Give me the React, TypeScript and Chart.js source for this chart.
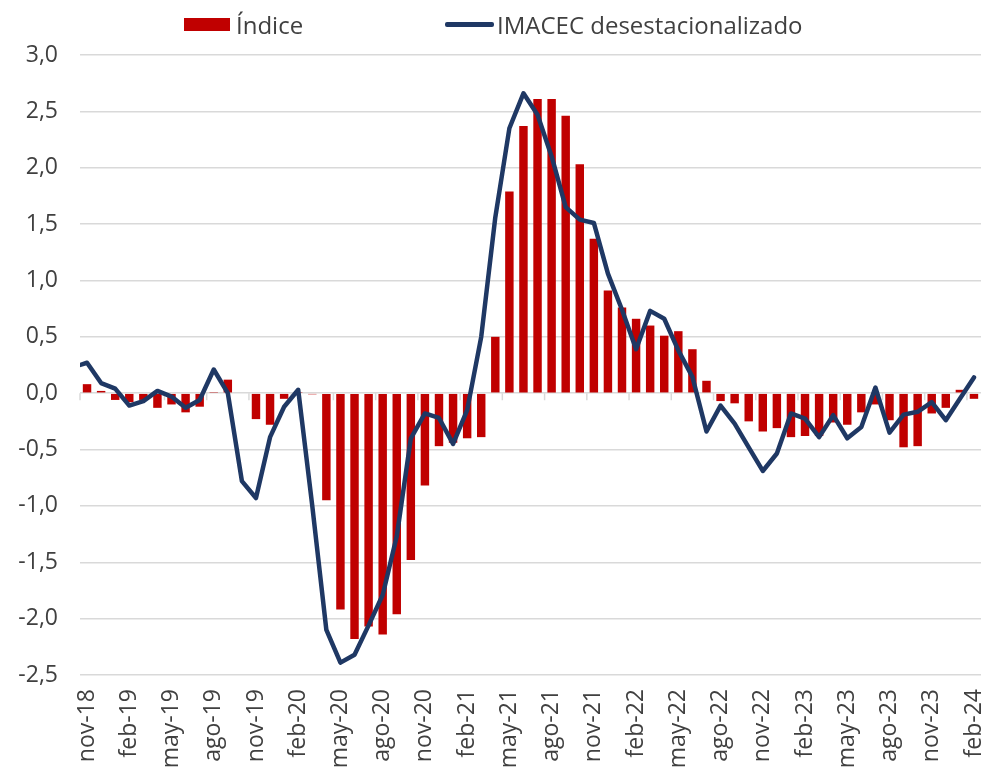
import React, { useEffect, useRef } from 'react';
import { Chart, registerables } from 'chart.js';

Chart.register(...registerables);

// Categories (first one, oct-18, sits just outside the visible range so the line enters from the edge)
const categories = [
  'oct-18', 'nov-18', 'dic-18',
  'ene-19', 'feb-19', 'mar-19', 'abr-19', 'may-19', 'jun-19', 'jul-19', 'ago-19', 'sep-19', 'oct-19', 'nov-19', 'dic-19',
  'ene-20', 'feb-20', 'mar-20', 'abr-20', 'may-20', 'jun-20', 'jul-20', 'ago-20', 'sep-20', 'oct-20', 'nov-20', 'dic-20',
  'ene-21', 'feb-21', 'mar-21', 'abr-21', 'may-21', 'jun-21', 'jul-21', 'ago-21', 'sep-21', 'oct-21', 'nov-21', 'dic-21',
  'ene-22', 'feb-22', 'mar-22', 'abr-22', 'may-22', 'jun-22', 'jul-22', 'ago-22', 'sep-22', 'oct-22', 'nov-22', 'dic-22',
  'ene-23', 'feb-23', 'mar-23', 'abr-23', 'may-23', 'jun-23', 'jul-23', 'ago-23', 'sep-23', 'oct-23', 'nov-23', 'dic-23',
  'ene-24', 'feb-24',
];

const indiceValues = [
  null, 0.08, 0.02,
  -0.06, -0.08, -0.06, -0.13, -0.10, -0.17, -0.12, 0.01, 0.12, 0.0, -0.23, -0.28,
  -0.05, 0.01, -0.01, -0.95, -1.92, -2.18, -2.07, -2.14, -1.96, -1.48, -0.82, -0.47,
  -0.44, -0.40, -0.39, 0.50, 1.79, 2.37, 2.61, 2.61, 2.46, 2.03, 1.37, 0.91,
  0.76, 0.66, 0.60, 0.51, 0.55, 0.39, 0.11, -0.07, -0.09, -0.25, -0.34, -0.31,
  -0.39, -0.38, -0.38, -0.26, -0.28, -0.17, -0.10, -0.24, -0.48, -0.47, -0.18, -0.13,
  0.03, -0.05,
];

const imacecValues = [
  0.23, 0.27, 0.09,
  0.04, -0.11, -0.07, 0.02, -0.03, -0.13, -0.06, 0.21, 0.0, -0.78, -0.93, -0.39,
  -0.12, 0.03, -1.0, -2.10, -2.39, -2.32, -2.06, -1.79, -1.27, -0.40, -0.18, -0.22,
  -0.45, -0.15, 0.50, 1.56, 2.35, 2.66, 2.47, 2.10, 1.65, 1.54, 1.51, 1.06,
  0.74, 0.39, 0.73, 0.66, 0.38, 0.145, -0.34, -0.11, -0.27, -0.48, -0.69, -0.535,
  -0.18, -0.225, -0.39, -0.195, -0.40, -0.30, 0.05, -0.35, -0.19, -0.165, -0.08, -0.24,
  -0.05, 0.14,
];

const seriesNames = ['Índice', 'IMACEC desestacionalizado'];
const firstVisible = 'nov-18';
const labelEvery = 3;

const FONT = '"Open Sans", "Noto Sans", sans-serif';
const TEXT = '#404040';
const GRID = '#D9D9D9';
const RED = '#C00000';
const NAVY = '#1F3864';

const zeroTicks = {
  id: 'zeroTicks',
  beforeDatasetsDraw(chart: any) {
    const xs = chart.scales.x;
    const ys = chart.scales.y;
    const ctx = chart.ctx;
    const y0 = ys.getPixelForValue(0);
    const half = (xs.getPixelForValue(2) - xs.getPixelForValue(1)) / 2;
    const start = categories.indexOf(firstVisible);
    ctx.save();
    ctx.strokeStyle = GRID;
    ctx.lineWidth = 1.5;
    ctx.beginPath();
    for (let i = start; i < categories.length; i += labelEvery) {
      const px = xs.getPixelForValue(i) - half;
      ctx.moveTo(px, y0);
      ctx.lineTo(px, y0 + 7);
    }
    ctx.stroke();
    ctx.restore();
  },
};

export default function App() {
  const canvasRef = useRef<HTMLCanvasElement | null>(null);

  useEffect(() => {
    const canvas = canvasRef.current;
    if (!canvas) return;
    const start = categories.indexOf(firstVisible);
    const chart = new Chart(canvas, {
      type: 'bar',
      data: {
        labels: categories,
        datasets: [
          {
            type: 'line',
            label: seriesNames[1],
            data: imacecValues,
            borderColor: NAVY,
            backgroundColor: NAVY,
            borderWidth: 4.5,
            pointRadius: 0,
            tension: 0,
            borderJoinStyle: 'round',
            borderCapStyle: 'round',
            order: 1,
          } as any,
          {
            type: 'bar',
            label: seriesNames[0],
            data: indiceValues,
            backgroundColor: RED,
            barPercentage: 0.6,
            categoryPercentage: 1,
            order: 2,
          } as any,
        ],
      },
      options: {
        responsive: false,
        animation: false,
        layout: { padding: { top: 55, left: 0, right: 0, bottom: 0 } },
        plugins: { legend: { display: false }, tooltip: { enabled: false } },
        scales: {
          x: {
            min: firstVisible,
            offset: true,
            grid: { display: false, drawTicks: false },
            border: { display: false },
            ticks: {
              autoSkip: false,
              maxRotation: 90,
              minRotation: 90,
              padding: 14,
              color: TEXT,
              font: { family: FONT, size: 23 },
              callback: (value: any) => {
                const idx = Number(value);
                return (idx - start) % labelEvery === 0 ? categories[idx] : '';
              },
            },
            afterFit: (scale: any) => {
              scale.height = 103;
              scale.paddingLeft = 0;
              scale.paddingRight = 0;
            },
          } as any,
          y: {
            min: -2.5,
            max: 3,
            grid: { color: GRID, lineWidth: 1.5, drawTicks: false },
            border: { display: false },
            ticks: {
              stepSize: 0.5,
              padding: 22,
              color: TEXT,
              font: { family: FONT, size: 23 },
              callback: (v: any) => Number(v).toFixed(1).replace('.', ','),
            },
            afterFit: (scale: any) => {
              scale.width = 80;
            },
          } as any,
        },
      },
      plugins: [zeroTicks],
    });
    return () => chart.destroy();
  }, []);

  const textStyle: React.CSSProperties = {
    position: 'absolute',
    top: 13,
    fontFamily: FONT,
    fontSize: 24,
    lineHeight: '24px',
    color: TEXT,
    whiteSpace: 'nowrap',
  };

  return (
    <div style={{ position: 'absolute', left: 0, top: 0, width: 981, height: 778, background: '#fff' }}>
      <canvas ref={canvasRef} width={981} height={778} style={{ display: 'block' }} />
      <div style={{ position: 'absolute', left: 184, top: 18, width: 46, height: 13, background: RED }} />
      <span style={{ ...textStyle, left: 236 }}>{seriesNames[0]}</span>
      <div style={{ position: 'absolute', left: 445, top: 22, width: 49, height: 4.5, background: NAVY, borderRadius: 2 }} />
      <span style={{ ...textStyle, left: 497 }}>{seriesNames[1]}</span>
    </div>
  );
}
